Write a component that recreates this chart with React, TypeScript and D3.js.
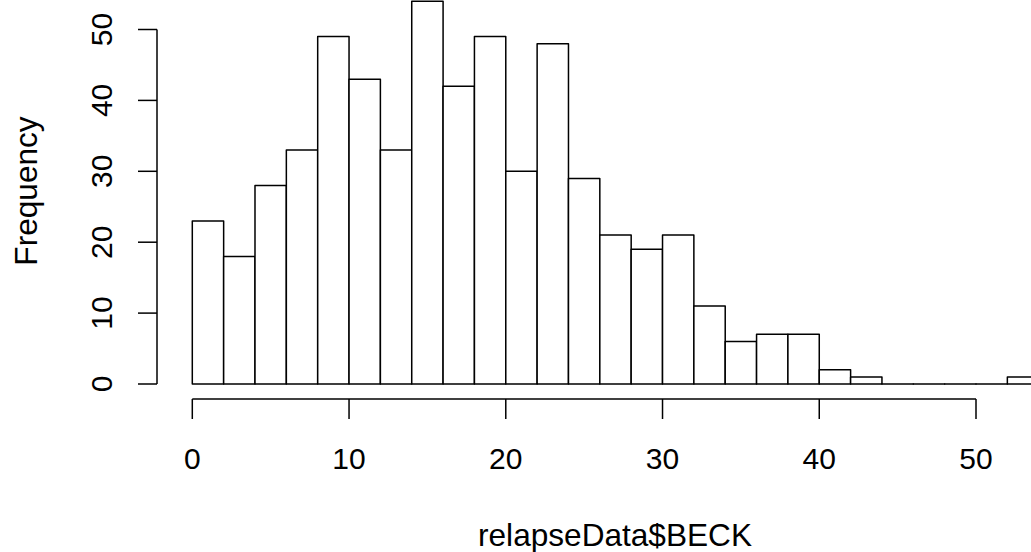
import React from "react";
import * as d3 from "d3";

const binStarts = [0, 2, 4, 6, 8, 10, 12, 14, 16, 18, 20, 22, 24, 26, 28, 30, 32, 34, 36, 38, 40, 42, 44, 46, 48, 50, 52];
const binWidth = 2;
const frequencies = [23, 18, 28, 33, 49, 43, 33, 54, 42, 49, 30, 48, 29, 21, 19, 21, 11, 6, 7, 7, 2, 1, 0, 0, 0, 0, 1];
const xTicks = [0, 10, 20, 30, 40, 50];
const yTicks = [0, 10, 20, 30, 40, 50];
const xLabel = "relapseData$BECK";
const yLabel = "Frequency";

const W = 1031;
const H = 552;
const FONT = "'Liberation Sans', Arial, Helvetica, sans-serif";

export default function App() {
  const x = d3.scaleLinear().domain([0, 50]).range([192.3, 976]);
  const y = d3.scaleLinear().domain([0, 50]).range([384, 29.5]);
  const fs = 30;
  const fsLab = 31.6;
  const sw = 1.5;
  return (
    <svg
      width={W}
      height={H}
      style={{ position: "absolute", left: 0, top: 0, background: "#fff" }}
      fontFamily={FONT}
    >
      <rect x={0} y={0} width={W} height={H} fill="#fff" />
      {binStarts.map((b, i) => {
        const p = d3.path();
        p.moveTo(x(b), y(0));
        p.lineTo(x(b), y(frequencies[i]));
        p.lineTo(x(b + binWidth), y(frequencies[i]));
        p.lineTo(x(b + binWidth), y(0));
        p.closePath();
        return (
          <path
            key={i}
            d={p.toString()}
            fill="#fff"
            stroke="#000"
            strokeWidth={sw}
            strokeLinejoin="round"
          />
        );
      })}
      {/* x axis */}
      <line x1={x(xTicks[0])} x2={x(xTicks[xTicks.length - 1])} y1={399} y2={399} stroke="#000" strokeWidth={sw} />
      {xTicks.map((t) => (
        <g key={t}>
          <line x1={x(t)} x2={x(t)} y1={399} y2={419} stroke="#000" strokeWidth={sw} />
          <text x={x(t)} y={469} fontSize={fs} textAnchor="middle" fill="#000">
            {t}
          </text>
        </g>
      ))}
      {/* y axis */}
      <line x1={157} x2={157} y1={y(yTicks[0])} y2={y(yTicks[yTicks.length - 1])} stroke="#000" strokeWidth={sw} />
      {yTicks.map((t) => (
        <g key={t}>
          <line x1={138} x2={157} y1={y(t)} y2={y(t)} stroke="#000" strokeWidth={sw} />
          <text
            transform={`translate(112,${y(t)}) rotate(-90)`}
            fontSize={fs}
            textAnchor="middle"
            fill="#000"
          >
            {t}
          </text>
        </g>
      ))}
      <text x={615} y={546} fontSize={fsLab} textAnchor="middle" fill="#000">
        {xLabel}
      </text>
      <text transform={`translate(37,191) rotate(-90)`} fontSize={fsLab} textAnchor="middle" fill="#000">
        {yLabel}
      </text>
    </svg>
  );
}
